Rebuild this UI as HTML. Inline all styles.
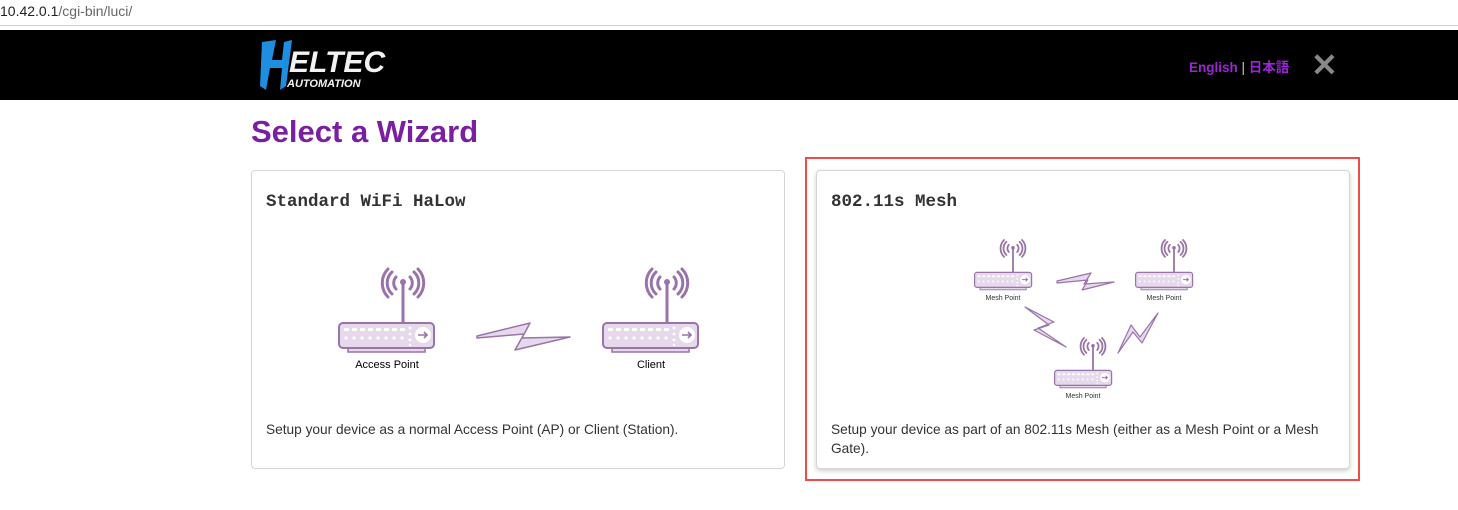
<!DOCTYPE html>
<html><head><meta charset="utf-8"><style>
*{margin:0;padding:0;box-sizing:border-box}
body{width:1458px;height:510px;background:#fff;position:relative;overflow:hidden;font-family:"Liberation Sans",Arial,sans-serif}
.url{position:absolute;left:0;top:0;width:1458px;height:26px;border-bottom:1px solid #ccc;font-size:14px;line-height:22px;color:#202124}
.url span{color:#666}
.hdr{position:absolute;left:0;top:30px;width:1458px;height:70px;background:#000}
.lang{position:absolute;left:1189px;top:56px;font-size:13.5px;font-weight:bold;color:#9b26d6;font-family:"Liberation Sans","Noto Sans CJK JP",sans-serif}
.lang i{color:#ccc;font-style:normal;font-weight:normal}
.x{position:absolute;left:1311px;top:46px;font-size:32px;color:#888;font-weight:bold}
h1{position:absolute;left:251px;top:114px;font-size:31px;color:#7b1fa2;font-weight:bold}
.card{position:absolute;top:170px;width:534px;height:299px;border:1px solid #d6d6d6;border-radius:4px;background:#fff}
.card h2{position:absolute;left:14px;top:21px;font-family:"Liberation Mono",monospace;font-size:17.5px;font-weight:bold;color:#333}
.card p{position:absolute;left:14px;top:249px;width:505px;font-size:13.7px;line-height:19px;color:#333}
.red{position:absolute;left:805px;top:157px;width:555px;height:324px;border:2px solid #f04a4a}
svg{position:absolute;left:0;top:0}
</style></head><body>
<div class="url">10.42.0.1<span>/cgi-bin/luci/</span></div>
<div class="hdr"></div>
<svg width="1458" height="510" style="z-index:1">
<g>
<path d="M262 42 L276 40 L272 60 L282 60 L284 42 L292 40 L286 86 L280 90 L282 68 L270 68 L266 90 L260 86 Z" fill="#1e8fe0"/>
<text x="289" y="72" font-family="Liberation Sans" font-weight="bold" font-style="italic" font-size="30" fill="#f2f2f2">ELTEC</text>
<text x="287" y="87" font-family="Liberation Sans" font-weight="bold" font-style="italic" font-size="11" fill="#f2f2f2">AUTOMATION</text>
</g>
</svg>
<div class="lang">English <i>|</i> 日本語</div>
<div class="x">✕</div>
<h1>Select a Wizard</h1>
<div class="card" style="left:251px"><h2>Standard WiFi HaLow</h2><p>Setup your device as a normal Access Point (AP) or Client (Station).</p></div>
<div class="card" style="left:816px;box-shadow:0 2px 5px rgba(0,0,0,.2)"><h2>802.11s Mesh</h2><p>Setup your device as part of an 802.11s Mesh (either as a Mesh Point or a Mesh Gate).</p></div>
<div class="red"></div>
<svg width="1458" height="510" style="z-index:2">
<defs>
<g id="r">
<g fill="none" stroke="#9a73a8" stroke-width="3" stroke-linecap="round">
<path d="M58 8 A9 9 0 0 0 58 20"/><path d="M72 8 A9 9 0 0 1 72 20"/>
<path d="M54 3 A15 15 0 0 0 54 25"/><path d="M76 3 A15 15 0 0 1 76 25"/>
<path d="M50 0 A20 20 0 0 0 50 28"/><path d="M80 0 A20 20 0 0 1 80 28"/>
</g>
<line x1="65" y1="12" x2="65" y2="54" stroke="#9a73a8" stroke-width="3"/>
<circle cx="65" cy="13" r="3" fill="#9a73a8"/>
<rect x="10" y="78" width="77" height="5" fill="#e6d9ec" stroke="#9a73a8" stroke-width="1.5"/>
<rect x="1" y="54" width="95" height="25" rx="4" fill="#e6d9ec" stroke="#9a73a8" stroke-width="2"/>
<g fill="#fff">
<rect x="6" y="59" width="5" height="3"/><rect x="14" y="59" width="5" height="3"/><rect x="22" y="59" width="5" height="3"/><rect x="30" y="59" width="5" height="3"/><rect x="38" y="59" width="5" height="3"/><rect x="46" y="59" width="5" height="3"/><rect x="54" y="59" width="5" height="3"/><rect x="62" y="59" width="5" height="3"/>
<circle cx="8" cy="69" r="1.6"/><circle cx="16" cy="69" r="1.6"/><circle cx="24" cy="69" r="1.6"/><circle cx="32" cy="69" r="1.6"/><circle cx="40" cy="69" r="1.6"/><circle cx="48" cy="69" r="1.6"/><circle cx="56" cy="69" r="1.6"/><circle cx="64" cy="69" r="1.6"/>
<circle cx="72" cy="59" r="1.4"/><circle cx="72" cy="65" r="1.4"/><circle cx="72" cy="71" r="1.4"/><circle cx="72" cy="76" r="1.2"/>
<circle cx="85" cy="66" r="8"/>
</g>
<path d="M80 66 H89 M86 63 L89 66 L86 69" stroke="#9a73a8" stroke-width="1.6" fill="none"/>
</g>
</defs>
<use href="#r" transform="translate(338,269)"/>
<use href="#r" transform="translate(602,269)"/>
<text x="387" y="368" font-size="11" text-anchor="middle" fill="#000" font-family="Liberation Sans">Access Point</text>
<text x="651" y="368" font-size="11" text-anchor="middle" fill="#000" font-family="Liberation Sans">Client</text>
<polygon points="477,336 530,323 522,338 570,337 515,350 524,334 477,338" fill="#e6d9ec" stroke="#9a73a8" stroke-width="1.5" stroke-linejoin="round"/>
<use href="#r" transform="translate(974,240) scale(0.6)"/>
<use href="#r" transform="translate(1135,240) scale(0.6)"/>
<use href="#r" transform="translate(1054,338) scale(0.6)"/>
<g font-size="7" text-anchor="middle" fill="#333" font-family="Liberation Sans">
<text x="1003" y="300">Mesh Point</text><text x="1164" y="300">Mesh Point</text><text x="1083" y="398">Mesh Point</text>
</g>
<g fill="#e6d9ec" stroke="#9a73a8" stroke-width="1.2" stroke-linejoin="round">
<polygon points="1057,281 1091,273 1084,284 1114,282 1082,290 1088,280 1057,283"/>
<polygon points="1025,307 1054,322 1038,328 1066,347 1034,330 1049,325"/>
<polygon points="1158,313 1142,343 1133,332 1118,353 1131,325 1140,337"/>
</g>
</svg>
</body></html>
